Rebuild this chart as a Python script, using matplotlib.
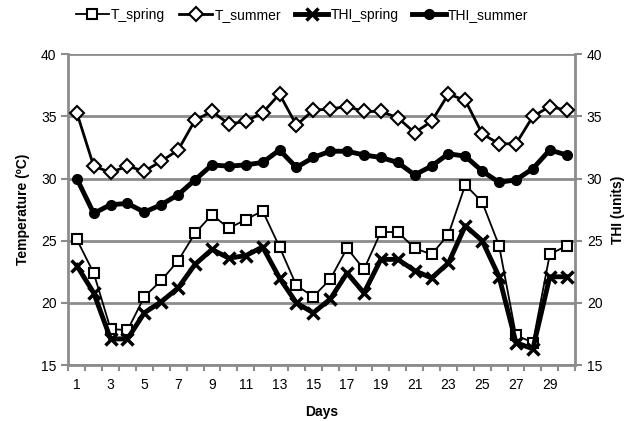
import numpy as np
import matplotlib.pyplot as plt
from matplotlib import font_manager

# 字体：窄体优先
names = {f.name for f in font_manager.fontManager.ttflist}
family = 'Liberation Sans Narrow' if 'Liberation Sans Narrow' in names else 'Liberation Sans'
plt.rcParams['font.family'] = [family, 'DejaVu Sans']

days = list(range(1, 31))
t_spring = [25.1, 22.4, 17.9, 17.8, 20.5, 21.8, 23.4, 25.6, 27.1, 26.0, 26.7, 27.4, 24.5, 21.4, 20.5, 21.9,
            24.4, 22.7, 25.7, 25.7, 24.4, 23.9, 25.5, 29.5, 28.1, 24.6, 17.4, 16.8, 23.9, 24.6]
t_summer = [35.3, 31.0, 30.5, 31.0, 30.6, 31.4, 32.3, 34.7, 35.4, 34.4, 34.6, 35.3, 36.8, 34.3, 35.5, 35.6,
            35.8, 35.4, 35.4, 34.9, 33.7, 34.6, 36.8, 36.3, 33.6, 32.8, 32.8, 35.0, 35.8, 35.5]
thi_spring = [23.0, 20.8, 17.1, 17.1, 19.2, 20.1, 21.2, 23.1, 24.3, 23.6, 23.8, 24.5, 22.0, 20.0, 19.2, 20.3,
              22.4, 20.8, 23.5, 23.5, 22.6, 22.0, 23.2, 26.2, 25.0, 22.1, 16.8, 16.3, 22.1, 22.1]
thi_summer = [30.0, 27.2, 27.9, 28.0, 27.3, 27.9, 28.7, 29.9, 31.1, 31.0, 31.1, 31.3, 32.3, 30.9, 31.7, 32.2,
              32.2, 31.9, 31.7, 31.3, 30.3, 31.0, 32.0, 31.8, 30.6, 29.7, 29.9, 30.8, 32.3, 31.9]
tick_labels = [str(d) for d in days[::2]]

grid_c = '#8c8c8c'
fs = 10

fig = plt.figure(figsize=(6.39, 4.21), dpi=100)
ax = fig.add_axes([0.107, 0.133, 0.793, 0.738])

ax.plot(days, t_spring, '-', color='black', lw=1.3, marker='s', ms=7,
        mfc='white', mec='black', mew=1.5, label='T_spring', zorder=3)
ax.plot(days, t_summer, '-', color='black', lw=2.0, marker='D', ms=7,
        mfc='white', mec='black', mew=1.5, label='T_summer', zorder=3)
ax.plot(days, thi_spring, '-', color='black', lw=3.5, marker='x', ms=9,
        mew=2.5, label='THI_spring', zorder=4)
ax.plot(days, thi_summer, '-', color='black', lw=3.5, marker='o', ms=7,
        label='THI_summer', zorder=4)

ax.set_xlim(0.5, 30.5)
ax.set_ylim(15, 40)
ax.set_yticks(range(15, 41, 5))
ax.set_xticks(days[::2])
ax.set_xticklabels(tick_labels)
ax.set_xticks(np.arange(0.5, 31, 1), minor=True)
ax.tick_params(axis='x', which='major', length=0, labelsize=fs, pad=9)
ax.tick_params(axis='x', which='minor', length=4, color=grid_c, width=1.5)
ax.tick_params(axis='y', length=5, color=grid_c, width=1.5, labelsize=fs)
ax.grid(axis='y', color=grid_c, lw=2)
ax.set_axisbelow(True)
for side in ['left', 'right', 'bottom']:
  ax.spines[side].set_color(grid_c)
  ax.spines[side].set_linewidth(2)
ax.spines['top'].set_visible(False)

ax2 = ax.twinx()
ax2.set_ylim(15, 40)
ax2.set_yticks(range(15, 41, 5))
ax2.tick_params(axis='y', length=5, color=grid_c, width=1.5, labelsize=fs)
for side in ['left', 'right', 'bottom', 'top']:
  ax2.spines[side].set_visible(False)

ax.set_xlabel('Days', fontweight='bold', fontsize=fs, labelpad=10)
ax.set_ylabel('Temperature (ºC)', fontweight='bold', fontsize=fs, labelpad=8)
ax2.set_ylabel('THI (units)', fontweight='bold', fontsize=fs, labelpad=6)

ax.legend(loc='lower center', bbox_to_anchor=(0.461, 1.085), ncol=4, frameon=False,
          fontsize=fs, handlelength=2.4, handletextpad=0.15, columnspacing=1.0,
          borderaxespad=0)

fig.savefig('out.png', dpi=100)
